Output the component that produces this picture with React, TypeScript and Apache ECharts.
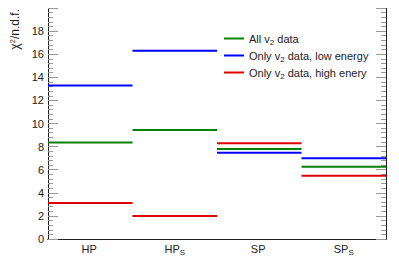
import React, { useEffect, useRef } from "react";
import * as echarts from "echarts";

const categories = ["HP", "HPs", "SP", "SPs"];
const categoryLabels = ["HP{sub| }", "HP{sub|S}", "SP{sub| }", "SP{sub|S}"];
const allData = [8.36, 9.43, 7.8, 6.25];
const lowEnergy = [13.3, 16.3, 7.46, 7.0];
const highEnergy = [3.12, 2.0, 8.3, 5.47];
const seriesNames = ["All v2 data", "Only v2 data, low energy", "Only v2 data, high enery"];
const legendLabels = [
  "All v{sub|2} data",
  "Only v{sub|2} data, low energy",
  "Only v{sub|2} data, high enery",
];
const colors = ["#008000", "#0000ff", "#e00000"];

const FONT = "Liberation Sans, Arial, Helvetica, sans-serif";

export default function App() {
  const ref = useRef<HTMLDivElement>(null);
  useEffect(() => {
    if (!ref.current) return;
    const chart = echarts.init(ref.current, null, { renderer: "svg" });
    const mk = (name: string, vals: number[], color: string) => ({
      name,
      type: "custom",
      xAxisIndex: 0,
      yAxisIndex: 0,
      itemStyle: { color },
      encode: { x: 0, y: 1 },
      data: vals.map((v, i) => [i, v]),
      renderItem: (params: any, api: any) => {
        const i = api.value(0);
        const v = api.value(1);
        const c = api.coord([i, v]);
        const w = api.size([1, 0])[0];
        return {
          type: "line",
          shape: { x1: c[0] - w / 2, y1: c[1], x2: c[0] + w / 2, y2: c[1] },
          style: { stroke: color, lineWidth: 2 },
        };
      },
    });
    const subRich = {
      sub: { fontSize: 8, fontFamily: FONT, color: "#222", padding: [7, 0, 0, 0] },
    };
    chart.setOption({
      animation: false,
      textStyle: { fontFamily: FONT },
      grid: { left: 48, right: 13, top: 8, bottom: 33 },
      legend: {
        orient: "vertical",
        left: 224,
        top: 33,
        padding: 0,
        itemWidth: 20,
        itemHeight: 2,
        itemGap: 4,
        icon: "rect",
        data: seriesNames,
        formatter: (name: string) => legendLabels[seriesNames.indexOf(name)],
        textStyle: {
          fontSize: 11,
          fontFamily: FONT,
          color: "#222",
          padding: [0, 0, 0, 0],
          rich: subRich,
        },
      },
      xAxis: [
        {
          type: "category",
          data: categories,
          boundaryGap: true,
          axisLine: { lineStyle: { color: "#222", width: 1 } },
          axisTick: { inside: true, length: 7, lineStyle: { color: "#888" } },
          axisLabel: {
            margin: 2,
            fontSize: 11,
            color: "#222",
            formatter: (v: string, idx: number) => categoryLabels[idx],
            rich: subRich,
          },
        },
        {
          type: "category",
          data: categories,
          position: "top",
          boundaryGap: true,
          axisLine: { lineStyle: { color: "#222", width: 1 } },
          axisTick: { inside: true, length: 7, lineStyle: { color: "#888" } },
          axisLabel: { show: false },
        },
      ],
      yAxis: [
        {
          type: "value",
          min: 0,
          max: 20,
          interval: 2,
          splitLine: { show: false },
          axisLine: { show: true, lineStyle: { color: "#222", width: 1 } },
          axisTick: { show: true, inside: true, length: 10, lineStyle: { color: "#999" } },
          minorTick: { show: true, splitNumber: 5, length: 5, lineStyle: { color: "#999" } },
          axisLabel: {
            margin: 4,
            fontSize: 11,
            color: "#222",
            formatter: (v: number) => (v >= 20 ? "" : String(v)),
          },
        },
        {
          type: "value",
          min: 0,
          max: 20,
          interval: 2,
          position: "right",
          splitLine: { show: false },
          axisLine: { show: true, lineStyle: { color: "#222", width: 1 } },
          axisTick: { show: true, inside: true, length: 10, lineStyle: { color: "#999" } },
          minorTick: { show: true, splitNumber: 5, length: 5, lineStyle: { color: "#999" } },
          axisLabel: { show: false },
        },
      ],
      graphic: [
        {
          type: "text",
          x: 15,
          y: 9,
          rotation: Math.PI / 2,
          style: {
            text: "χ{sup|2}/n.d.f.",
            align: "right",
            verticalAlign: "middle",
            fontSize: 12,
            fontFamily: FONT,
            fill: "#222",
            rich: {
              sup: { fontSize: 8, fontFamily: FONT, fill: "#222", padding: [0, 0, 6, 0] },
            },
          },
        },
      ],
      series: [
        mk(seriesNames[0], allData, colors[0]),
        mk(seriesNames[1], lowEnergy, colors[1]),
        mk(seriesNames[2], highEnergy, colors[2]),
      ],
    });
    return () => chart.dispose();
  }, []);
  return <div ref={ref} style={{ width: 399, height: 272, margin: -8 }} />;
}
